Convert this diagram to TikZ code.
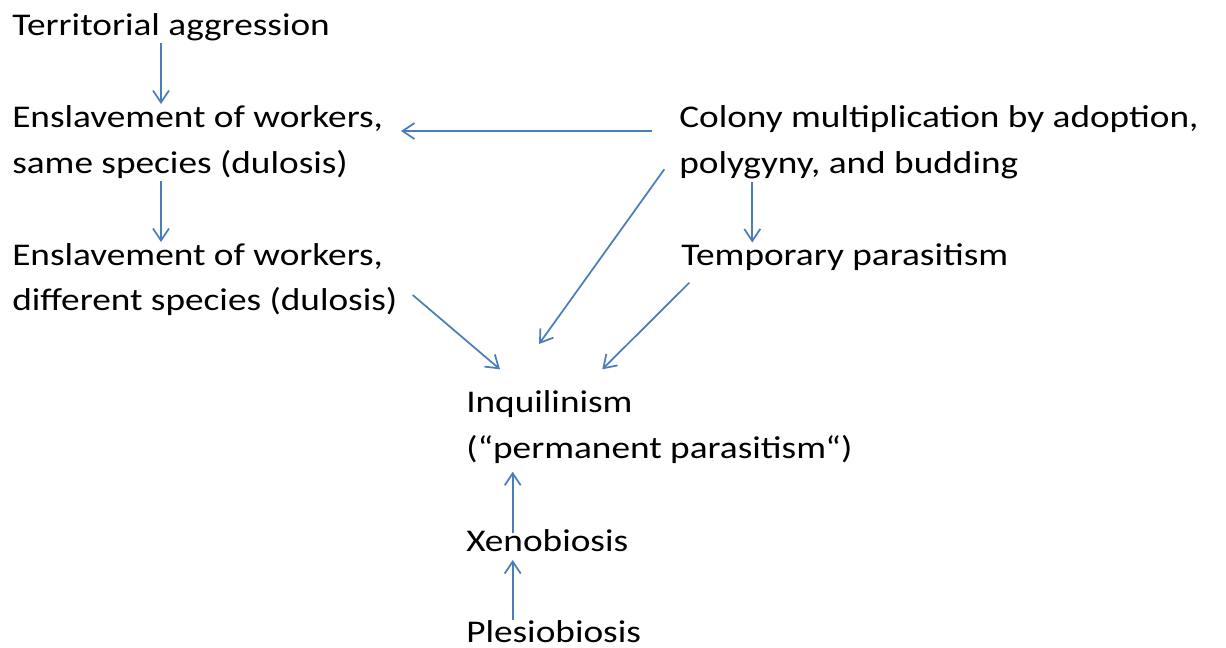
\documentclass[tikz,border=0pt]{standalone}
\usepackage{fontspec}
\setmainfont{Carlito}[FakeStretch=1.18]
\usetikzlibrary{arrows.meta}
\definecolor{arrowblue}{HTML}{4A7EBB}
\begin{document}
\begin{tikzpicture}[x=0.75pt,y=-0.75pt,
  lbl/.style={anchor=base west, inner sep=0pt, align=left,
    font=\fontsize{23.7pt}{34.1pt}\selectfont, text=black},
  arr/.style={draw=arrowblue, line width=1.3pt,
    -{Straight Barb[length=9pt,width=12pt]}}]
\useasboundingbox (0,0) rectangle (1226,647);
\clip (0,0) rectangle (1226,647);
% texts (multi-line nodes are anchored at the baseline of their last line)
\node[lbl] (terr) at (12,35) {Territorial aggression};
\node[lbl] (ens1) at (12,173.3) {Enslavement of workers,\\same species (dulosis)};
\node[lbl] (ens2) at (12,310.5) {Enslavement of workers,\\different species (dulosis)};
\node[lbl] (col)  at (679,173.3) {Colony multiplication by adoption,\\polygyny, and budding};
\node[lbl] (temp) at (681,265) {Temporary parasitism};
\node[lbl] (inq)  at (466,458) {Inquilinism\\(“permanent parasitism“)};
\node[lbl] (xeno) at (466,551.7) {Xenobiosis};
\node[lbl] (ples) at (466,642) {Plesiobiosis};
% connector end points
\coordinate (terr-o) at (161,43);
\coordinate (ens1-i) at (161,104);
\coordinate (ens1-o) at (161,181);
\coordinate (ens2-i) at (161,242);
\coordinate (col-w)  at (652,131);
\coordinate (ens1-e) at (401,131);
\coordinate (col-sw) at (664.3,169.3);
\coordinate (inq-n)  at (539,344);
\coordinate (col-s)  at (752.3,182);
\coordinate (temp-n) at (752.3,242.5);
\coordinate (ens2-e) at (412.7,295);
\coordinate (inq-nw) at (500,369.3);
\coordinate (temp-s) at (689.3,282.7);
\coordinate (inq-ne) at (602.3,369.3);
\coordinate (xeno-n) at (512.7,533);
\coordinate (inq-s)  at (512.7,471.7);
\coordinate (ples-n) at (512.7,620);
\coordinate (xeno-s) at (512.7,560);
% connectors
\draw[arr] (terr-o) -- (ens1-i);
\draw[arr] (ens1-o) -- (ens2-i);
\draw[arr] (col-w) -- (ens1-e);
\draw[arr] (col-sw) -- (inq-n);
\draw[arr] (col-s) -- (temp-n);
\draw[arr] (ens2-e) -- (inq-nw);
\draw[arr] (temp-s) -- (inq-ne);
\draw[arr] (xeno-n) -- (inq-s);
\draw[arr] (ples-n) -- (xeno-s);
\end{tikzpicture}
\end{document}
